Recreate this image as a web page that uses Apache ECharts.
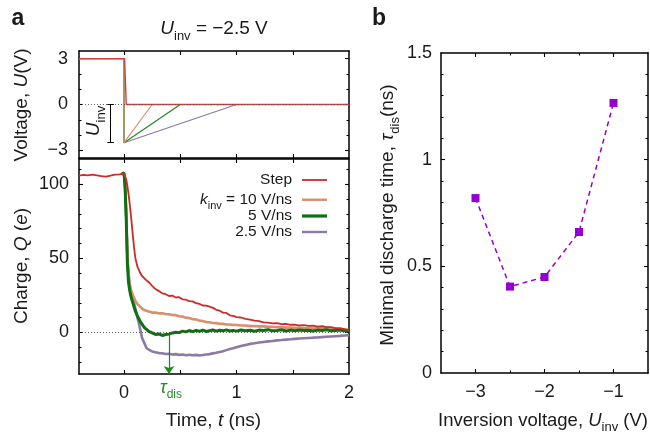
<!DOCTYPE html>
<html><head><meta charset="utf-8">
<script src="https://cdn.jsdelivr.net/npm/echarts@6/dist/echarts.min.js"></script>
<style>html,body{margin:0;padding:0;background:#fff}#c{width:650px;height:432px}</style>
</head><body><div id="c"></div><script>
// ---------- data ----------
const timeNs = [
 -0.4,-0.36,-0.32,-0.28,-0.24,-0.2,-0.16,-0.12,-0.08,-0.04,
 -0.02,0,0.01,0.02,0.03,0.04,0.05,0.06,0.07,0.08,
 0.09,0.1,0.12,0.14,0.16,0.18,0.2,0.22,0.25,0.28,
 0.31,0.34,0.37,0.4,0.43,0.46,0.49,0.52,0.55,0.58,
 0.61,0.64,0.67,0.7,0.73,0.76,0.79,0.82,0.85,0.88,
 0.91,0.94,0.97,1.0,1.04,1.08,1.12,1.16,1.2,1.24,
 1.28,1.32,1.36,1.4,1.44,1.48,1.52,1.56,1.6,1.64,
 1.68,1.72,1.76,1.8,1.84,1.88,1.92,1.96,2.0
];
const chargeStep = [
 105.8,106.3,105.9,106.5,106.0,105.4,105.1,105.8,106.4,106.7,
 107.0,107.3,106.0,103.2,98.8,93.5,87.2,80.1,72.4,64.3,
 57.0,50.6,44.2,40.8,38.1,36.6,35.2,33.9,31.4,29.3,
 27.9,26.4,25.8,24.6,24.9,23.6,23.8,22.4,22.1,21.2,
 21.0,19.8,19.3,18.2,18.1,17.4,16.6,15.3,14.7,13.4,
 13.2,11.6,11.2,10.3,10.1,9.2,8.7,8.0,7.6,6.8,
 6.7,6.2,6.3,5.7,5.8,5.2,5.3,4.7,4.9,4.4,
 4.6,4.0,4.2,3.6,3.6,3.0,2.9,2.2,1.8
];
const charge10 = [
 null,null,null,null,null,null,null,null,null,null,
 106.8,107.4,99.0,79.0,50.0,38.0,32.2,29.0,27.1,25.0,
 23.2,21.6,19.1,17.6,16.2,15.1,14.6,14.1,13.4,13.4,
 12.9,13.0,12.4,12.3,11.8,11.7,11.0,10.7,10.0,9.7,
 9.0,8.7,8.0,7.7,7.0,6.9,6.4,6.3,5.9,5.8,
 5.4,5.4,5.0,5.1,4.7,4.7,4.3,4.4,4.1,4.1,
 3.8,3.9,3.5,3.6,3.3,3.4,3.1,3.2,2.9,3.0,
 2.7,2.8,2.5,2.6,2.2,2.3,1.9,2.0,1.6
];
const charge5 = [
 null,null,null,null,null,null,null,null,null,null,
 106.9,107.6,97.0,76.0,46.0,34.0,28.6,24.8,22.0,19.6,
 17.0,14.6,11.0,8.1,5.6,3.4,2.1,0.8,-0.2,-1.3,
 -1.0,-2.0,-1.4,-1.1,-0.3,0.2,-0.1,0.9,0.4,1.3,
 0.6,1.4,0.8,1.6,0.7,1.2,1.7,0.9,1.5,1.1,
 1.8,1.0,1.4,0.9,1.7,1.2,1.5,0.8,1.6,1.3,
 1.9,1.1,1.4,1.8,1.0,1.6,1.2,1.7,1.3,1.5,
 1.0,1.6,1.3,1.8,1.1,1.4,1.7,1.2,1.0
];
const charge25 = [
 null,null,null,null,null,null,null,null,null,null,
 106.7,107.2,98.5,78.0,52.0,40.0,33.0,28.5,25.5,22.5,
 19.5,16.5,10.0,3.5,-3.5,-7.0,-10.5,-11.6,-12.8,-13.4,
 -13.9,-14.0,-14.5,-14.3,-14.8,-14.6,-15.1,-14.9,-15.3,-15.0,
 -15.4,-15.1,-15.5,-15.2,-14.8,-14.6,-14.1,-13.7,-13.2,-12.6,
 -11.9,-11.2,-10.6,-9.9,-9.1,-8.4,-7.7,-7.3,-6.8,-6.4,
 -6.0,-5.7,-5.3,-5.1,-4.8,-4.6,-4.3,-4.1,-3.9,-3.7,
 -3.5,-3.4,-3.1,-2.9,-2.7,-2.5,-2.3,-2.0,-1.8
];
const voltStep = [[-0.4,3],[0.005,3],[0.02,0],[2,0]];
const volt10 = [[-0.4,3],[0,3],[0,-2.5],[0.25,0],[2,0]];
const volt5 = [[-0.4,3],[0,3],[0,-2.5],[0.5,0],[2,0]];
const volt25 = [[-0.4,3],[0,3],[0,-2.5],[1,0],[2,0]];
const invVoltage = [-3,-2.5,-2,-1.5,-1];
const dischargeTime = [0.82,0.405,0.45,0.661,1.266];
const uInv = -2.5;
const tauDis = 0.4;
const seriesNames = ['Step','10 V/ns','5 V/ns','2.5 V/ns'];
// tick / label values
const timeTicks = [0,0.5,1,1.5];
const timeLabels = [0,1,2];
const voltTicks = [-3,0,3];
const voltMinor = [-2,-1,1,2];
const chargeTicks = [0,50,100];
const chargeMinor = [-20,-10,10,20,30,40,60,70,80,90,110];
const invTicks = [-3,-2,-1];
const invMinor = [-2.5,-1.5];
const tauTicks = [0.5,1];
const tauLabels = [0,0.5,1,1.5];
const tauMinor = [0.1,0.2,0.3,0.4,0.6,0.7,0.8,0.9,1.1,1.2,1.3,1.4];

// ---------- style ----------
const FONT = '"Liberation Sans", Arial, Helvetica, sans-serif';
const COL = {red:'#cc2b2b', orange:'#d98f6c', green:'#0f700f', purple:'#8b7aa3', violet:'#9400d3', tau:'#2c8a2c'};
const fmt = v => String(v).replace('-', '\u2212');
const zip = vals => timeNs.map((t,i)=>[t, vals[i]]).filter(p => p[1] !== null);

function mkAxis(o){
  return {
    type:'value', gridIndex:o.grid, position:o.pos, min:o.min, max:o.max,
    axisLine:{show:o.line !== false, onZero:false, lineStyle:{color:'#000', width:1.5}},
    axisTick:{show:true, inside:true, length:o.len, customValues:o.ticks, lineStyle:{color:'#000', width:1.1}},
    axisLabel: o.labels ? {show:true, customValues:o.labels, margin:o.margin || 9, fontSize:18, fontFamily:FONT, color:'#1a1a1a', formatter:fmt} : {show:false},
    splitLine:{show:false}, minorTick:{show:false}, axisPointer:{show:false}
  };
}

const xAxes = [
  mkAxis({grid:0,pos:'bottom',min:-0.4,max:2,ticks:timeTicks,len:4}),
  mkAxis({grid:0,pos:'top',min:-0.4,max:2,ticks:timeTicks,len:4}),
  mkAxis({grid:1,pos:'bottom',min:-0.4,max:2,ticks:timeTicks,len:4,labels:timeLabels,margin:10}),
  mkAxis({grid:1,pos:'top',min:-0.4,max:2,ticks:timeTicks,len:4}),
  mkAxis({grid:2,pos:'bottom',min:-3.5,max:-0.5,ticks:invTicks,len:4,labels:invTicks,margin:10}),
  mkAxis({grid:2,pos:'top',min:-3.5,max:-0.5,ticks:invTicks,len:4}),
  mkAxis({grid:2,pos:'bottom',min:-3.5,max:-0.5,ticks:invMinor,len:2.5,line:false}),
  mkAxis({grid:2,pos:'top',min:-3.5,max:-0.5,ticks:invMinor,len:2.5,line:false})
];
const yAxes = [
  mkAxis({grid:0,pos:'left',min:-3.5,max:3.5,ticks:voltTicks,len:4,labels:voltTicks,margin:11}),
  mkAxis({grid:0,pos:'right',min:-3.5,max:3.5,ticks:voltTicks,len:4}),
  mkAxis({grid:0,pos:'left',min:-3.5,max:3.5,ticks:voltMinor,len:2.5,line:false}),
  mkAxis({grid:0,pos:'right',min:-3.5,max:3.5,ticks:voltMinor,len:2.5,line:false}),
  mkAxis({grid:1,pos:'left',min:-28,max:117,ticks:chargeTicks,len:4,labels:chargeTicks,margin:10}),
  mkAxis({grid:1,pos:'right',min:-28,max:117,ticks:chargeTicks,len:4}),
  mkAxis({grid:1,pos:'left',min:-28,max:117,ticks:chargeMinor,len:2.5,line:false}),
  mkAxis({grid:1,pos:'right',min:-28,max:117,ticks:chargeMinor,len:2.5,line:false}),
  mkAxis({grid:2,pos:'left',min:0,max:1.5,ticks:tauTicks,len:4,labels:tauLabels,margin:9}),
  mkAxis({grid:2,pos:'right',min:0,max:1.5,ticks:tauTicks,len:4}),
  mkAxis({grid:2,pos:'left',min:0,max:1.5,ticks:tauMinor,len:2.5,line:false}),
  mkAxis({grid:2,pos:'right',min:0,max:1.5,ticks:tauMinor,len:2.5,line:false})
];

const rich = (fs, color) => ({
  i:{fontStyle:'italic', fontSize:fs, fontFamily:FONT, lineHeight:fs+8, verticalAlign:'middle', fill:color, color:color},
  s:{fontSize:Math.round(fs*0.68), fontFamily:FONT, lineHeight:Math.round(fs*0.72), verticalAlign:'bottom', fill:color, color:color}
});
function txt(x, y, text, opts){
  opts = opts || {};
  const fs = opts.fs || 19, color = opts.color || '#1a1a1a';
  return {type:'text', x:x, y:y, rotation:opts.rot || 0, silent:true, z:100,
    style:{text:text, fontSize:fs, fontFamily:FONT, fontWeight:opts.bold ? 'bold' : 'normal', lineHeight:fs+8,
      fill:color, align:'center', verticalAlign:'middle', textAlign:'center', textVerticalAlign:'middle', rich:rich(fs, color)}};
}

const lineS = (name, data, color, width, xi, yi, extra) => Object.assign({
  name:name, type:'line', data:data, xAxisIndex:xi, yAxisIndex:yi, showSymbol:false, symbol:'none',
  lineStyle:{color:color, width:width}, itemStyle:{color:color}, animation:false, silent:true, z:2
}, extra || {});

const dotted = {silent:true, symbol:'none', label:{show:false}, animation:false,
  lineStyle:{color:'#555', width:0.9, type:[1,2]}, data:[{yAxis:0}]};

const series = [
  // top panel: voltage
  lineS('U 2.5', volt25, COL.purple, 1.2, 0, 0, {markLine:{silent:true, symbol:'none', label:{show:false}, animation:false,
    data:[
      {yAxis:0, lineStyle:{color:'#555', width:0.9, type:[1,2]}},
      [{coord:[-0.118,0], lineStyle:{color:'#000', width:1, type:'solid'}},{coord:[-0.118,uInv]}],
      [{coord:[-0.148,0], lineStyle:{color:'#000', width:1, type:'solid'}},{coord:[-0.09,0]}],
      [{coord:[-0.148,uInv], lineStyle:{color:'#000', width:1, type:'solid'}},{coord:[-0.09,uInv]}]
    ]}}),
  lineS('U 5', volt5, '#1f8a1f', 1.2, 0, 0),
  lineS('U 10', volt10, '#d9946e', 1.2, 0, 0),
  lineS('U step', voltStep, '#cf4040', 1.4, 0, 0),
  // bottom panel: charge
  lineS(seriesNames[3], zip(charge25), COL.purple, 2.6, 2, 4, {markLine:dotted}),
  lineS(seriesNames[1], zip(charge10), COL.orange, 2.6, 2, 4),
  lineS(seriesNames[2], zip(charge5), COL.green, 3, 2, 4, {markLine:{silent:true, symbol:['none','arrow'], symbolSize:8,
    label:{show:false}, animation:false, lineStyle:{color:'#1a8a1a', width:1.2, type:'solid'},
    data:[[{coord:[tauDis,-1.1]},{coord:[tauDis,-28]}]]}}),
  lineS(seriesNames[0], zip(chargeStep), COL.red, 1.8, 2, 4),
  // right panel
  {name:'tau', type:'line', xAxisIndex:4, yAxisIndex:8, data:invVoltage.map((v,i)=>[v, dischargeTime[i]]),
   symbol:'rect', symbolSize:8, showSymbol:true, itemStyle:{color:COL.violet},
   lineStyle:{color:COL.violet, width:1.5, type:[5,4]}, animation:false, silent:true, z:3}
];

const legendTops = [170, 188, 206, 222];
const legendH = [1.8, 2.4, 3.2, 2.4];
const legendCol = [COL.red, COL.orange, COL.green, COL.purple];
const legendFmt = n => n === '10 V/ns' ? '{i|k}{s|inv} = 10 V/ns' : n;
const legends = seriesNames.map((n,i) => ({
  data:[{name:n, itemStyle:{color:legendCol[i]}}], orient:'horizontal', align:'right', right:323, top:legendTops[i],
  icon:'rect', itemWidth:25, itemHeight:legendH[i], padding:0, itemGap:0, selectedMode:false,
  formatter:legendFmt,
  textStyle:{fontSize:15.5, fontFamily:FONT, color:'#1a1a1a', lineHeight:20, padding:[0,5,0,0], rich:rich(15.5,'#1a1a1a')}
}));

const graphics = [
  txt(18, 19, 'a', {fs:23, bold:true}),
  txt(379, 19, 'b', {fs:23, bold:true}),
  txt(214, 29, '{i|U}{s|inv} = \u22122.5 V'),
  txt(22, 105, 'Voltage, {i|U}(V)', {rot:Math.PI/2}),
  txt(22, 266, 'Charge, {i|Q} ({i|e})', {rot:Math.PI/2}),
  txt(213.5, 421, 'Time, {i|t} (ns)'),
  txt(543, 421, 'Inversion voltage, {i|U}{s|inv} (V)', {fs:18.5}),
  txt(388, 215, 'Minimal discharge time, {i|\u03c4}{s|dis}(ns)', {rot:Math.PI/2}),
  txt(94, 121, '{i|U}{s|inv}', {rot:Math.PI/2}),
  txt(171, 388, '{i|\u03c4}{s|dis}', {fs:18, color:COL.tau})
];

const chart = echarts.init(document.getElementById('c'), null, {renderer:'canvas'});
chart.setOption({
  animation:false,
  backgroundColor:'#fff',
  textStyle:{fontFamily:FONT},
  grid:[
    {left:79, top:51, width:270, height:107, outerBoundsMode:'none', containLabel:false},
    {left:79, top:159, width:270, height:215, outerBoundsMode:'none', containLabel:false},
    {left:441, top:53, width:207, height:320, outerBoundsMode:'none', containLabel:false}
  ],
  xAxis:xAxes, yAxis:yAxes, series:series, legend:legends, graphic:graphics
});
</script></body></html>
